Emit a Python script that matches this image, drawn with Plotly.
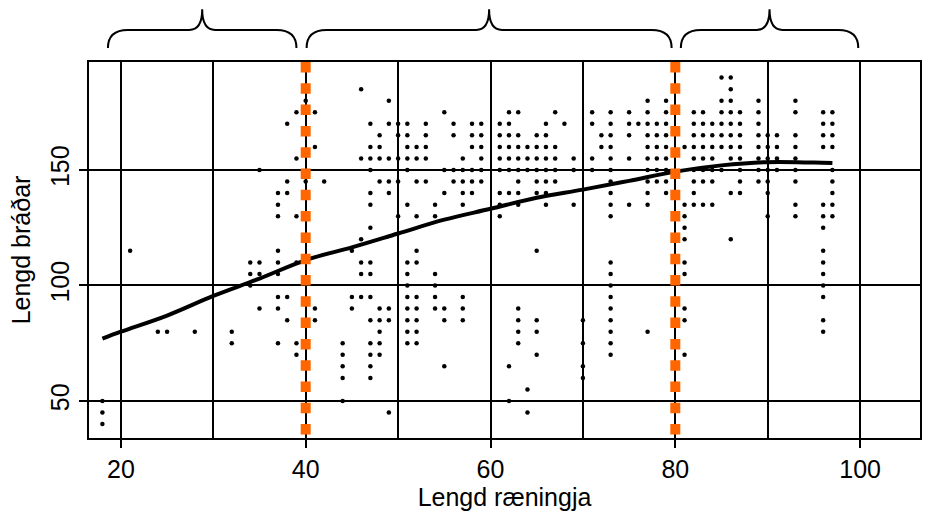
import plotly.graph_objects as go

# ---- data: scatter columns (x value -> list of y values) ----
col_x = [18, 21, 24, 25, 28, 32, 34, 35, 37, 38, 39, 40, 41, 42, 44, 45, 46, 47, 48, 49,
         50, 51, 52, 53, 54, 55, 56, 57, 58, 59, 61, 62, 63, 64, 65, 66, 67, 68, 69, 70,
         71, 72, 73, 75, 76, 77, 78, 79, 81, 82, 83, 84, 85, 86, 87, 89, 90, 91, 93, 96, 97]
col_ys = [
    [50, 45, 40],
    [115],
    [80],
    [80],
    [80],
    [80, 75],
    [110, 105, 100],
    [150, 110, 105, 90],
    [140, 135, 130, 115, 110, 105, 95, 90, 75],
    [170, 145, 140, 95, 85],
    [175, 155, 130, 110, 75, 70],
    [180, 145, 120],
    [175, 160, 90, 85],
    [145],
    [75, 70, 65, 60, 50],
    [115, 95, 90],
    [185, 155, 120, 110, 105, 95],
    [170, 160, 155, 150, 140, 135, 125, 110, 105, 95, 85, 75, 70, 65, 60],
    [165, 160, 155, 145, 90, 85, 80, 75, 70],
    [180, 170, 155, 145, 140, 90, 85, 45],
    [170, 165, 155, 145, 130],
    [170, 165, 160, 155, 150, 135, 110, 105, 100, 95, 90, 85, 80, 75],
    [160, 155, 145, 130, 115, 110, 95, 90, 85, 80, 75],
    [170, 165, 160, 155, 145],
    [135, 130, 105, 100, 95, 90],
    [175, 150, 140, 90, 85, 65],
    [170, 165, 150, 145],
    [155, 150, 145, 140, 135, 95, 90, 85],
    [170, 165, 160, 150, 145, 140],
    [170, 165, 160, 155, 150, 145],
    [170, 165, 160, 155, 150, 140, 135, 130],
    [175, 170, 165, 160, 155, 150, 140, 65, 50],
    [175, 165, 160, 155, 150, 145, 140, 135, 90, 85, 80, 75],
    [160, 155, 150, 55, 45],
    [165, 160, 155, 150, 145, 140, 115, 85, 80, 70],
    [170, 165, 160, 155, 150, 145, 140, 135],
    [175, 160, 155, 150, 145],
    [170],
    [155, 150, 135],
    [85, 75, 65, 60],
    [175, 170, 155, 150],
    [165, 160],
    [175, 170, 165, 160, 155, 150, 145, 140, 135, 130, 110, 105, 100, 95, 90, 85, 80, 75, 70],
    [175, 170, 165, 155, 135],
    [170],
    [180, 175, 170, 165, 160, 155, 150, 145, 140, 135, 80],
    [170, 165, 160, 155, 150, 145],
    [180, 175, 170, 165, 160, 155, 150, 145, 140],
    [160, 135, 130, 125, 120, 110, 105, 90, 85, 70],
    [175, 170, 165, 160, 155, 150, 145, 140, 135],
    [175, 170, 165, 160, 155, 150, 145, 135],
    [170, 165, 160, 155, 150, 145, 135],
    [190, 180, 175, 170, 165, 160, 150],
    [190, 185, 180, 175, 170, 165, 160, 155, 140, 120],
    [175, 170, 165, 160, 155, 150, 145, 140],
    [180, 175, 170, 165, 160, 155, 150, 145],
    [165, 160, 155, 150, 145, 140, 130],
    [165, 160, 155, 150],
    [180, 175, 165, 160, 155, 150, 145, 135, 130],
    [175, 170, 165, 160, 135, 130, 125, 115, 110, 105, 100, 95, 85, 80],
    [175, 170, 165, 160, 150, 145, 140, 135, 130],
]

# smooth trend curve
curve_x = [18, 20, 25, 30, 35, 40, 45, 50, 55, 60, 65, 70, 75, 80, 85, 90, 95, 97]
curve_y = [77, 80, 87, 95.5, 103, 111, 116.5, 122.5, 128.5, 133.2, 138, 141.5, 145.3, 149.3, 152, 153.4, 153.2, 153]

# group boundaries and braces
split_x = [40, 80]
brace_x0 = [18.6, 40.1, 80.6]
brace_x1 = [39.0, 79.6, 99.8]

x_ticks = [20, 40, 60, 80, 100]
y_ticks = [50, 100, 150]

px_, py_ = [], []
for xv, ys in zip(col_x, col_ys):
    for yv in ys:
        px_.append(xv)
        py_.append(yv)

fig = go.Figure()
fig.add_trace(go.Scatter(x=px_, y=py_, mode="markers",
                         marker=dict(color="black", size=4.5), showlegend=False,
                         hoverinfo="skip"))
fig.add_trace(go.Scatter(x=curve_x, y=curve_y, mode="lines", line=dict(color="black", width=4, shape="spline"),
                         showlegend=False, hoverinfo="skip"))

shapes = []
for sx in split_x:
    shapes.append(dict(type="line", xref="x", yref="paper", x0=sx, x1=sx, y0=1, y1=0,
                       line=dict(color="rgb(255,102,0)", width=10, dash="10.5px,10.8px"), layer="above"))

ye, yh, yt = 1.037, 1.085, 1.140
rx, rt = 2.15, 1.4
for a, b in zip(brace_x0, brace_x1):
    m = (a + b) / 2
    path = (f"M {a},{ye} Q {a},{yh} {a+rx},{yh} L {m-rt},{yh} Q {m},{yh} {m},{yt} "
            f"Q {m},{yh} {m+rt},{yh} L {b-rx},{yh} Q {b},{yh} {b},{ye}")
    shapes.append(dict(type="path", xref="x", yref="paper", path=path,
                       line=dict(color="black", width=2)))

font = dict(family="Liberation Sans, Arial, sans-serif", color="black")
fig.update_layout(
    width=932, height=519,
    margin=dict(l=89, r=10, t=62, b=81),
    paper_bgcolor="white", plot_bgcolor="white",
    shapes=shapes,
    font=dict(family="Liberation Sans, Arial, sans-serif", size=25, color="black"),
    xaxis=dict(range=[16.55, 106.48], tickvals=x_ticks, ticks="outside", ticklen=8, tickwidth=1.5,
               tickcolor="black", showline=True, mirror=True, linecolor="black", linewidth=2,
               showgrid=False, zeroline=False,
               minor=dict(dtick=10, tick0=0, showgrid=True, gridcolor="black", gridwidth=2),
               tickfont=dict(size=25),
               title=dict(text="Lengd ræningja", font=dict(size=25), standoff=4)),
    yaxis=dict(range=[33.98, 196.75], tickvals=y_ticks, ticks="outside", ticklen=8, tickwidth=1.5,
               tickcolor="black", showline=True, mirror=True, linecolor="black", linewidth=2,
               showgrid=True, gridcolor="black", gridwidth=2, zeroline=False,
               tickangle=-90, tickfont=dict(size=25),
               title=dict(text="Lengd bráðar", font=dict(size=25), standoff=8)),
)

fig.write_html("out.html")
